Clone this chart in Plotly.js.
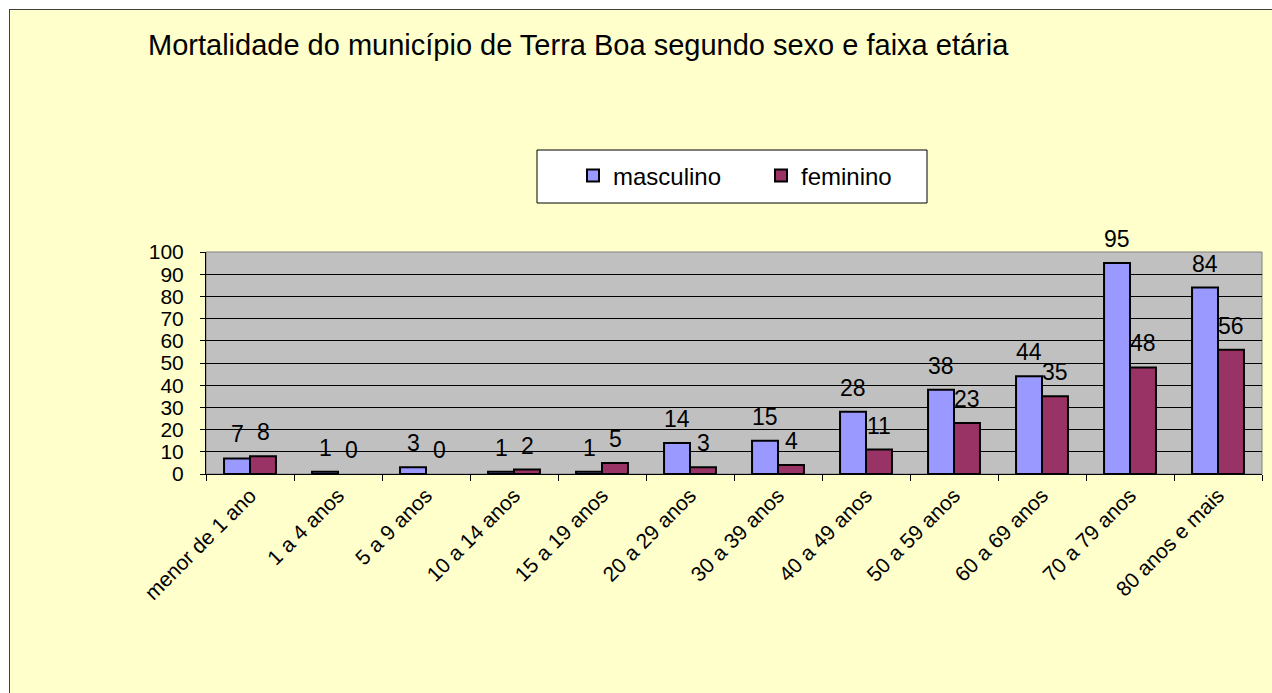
<!DOCTYPE html>
<html>
<head>
<meta charset="utf-8">
<script src="https://cdn.plot.ly/plotly-3.0.1.min.js"></script>
<style>
  html, body { margin: 0; padding: 0; background: #ffffff; width: 1272px; height: 693px; overflow: hidden; }
  #chart { position: absolute; left: 9px; top: 9px; width: 1263px; height: 684px;
           border-left: 1px solid #404040; border-top: 1px solid #404040; }
</style>
</head>
<body>
<div id="chart"></div>
<script>
const categories = ["menor de 1 ano","1 a 4 anos","5 a 9 anos","10 a 14 anos","15 a 19 anos","20 a 29 anos","30 a 39 anos","40 a 49 anos","50 a 59 anos","60 a 69 anos","70 a 79 anos","80 anos e mais"];
const masculino = [7, 1, 3, 1, 1, 14, 15, 28, 38, 44, 95, 84];
const feminino  = [8, 0, 0, 2, 5, 3, 4, 11, 23, 35, 48, 56];
const seriesNames = ["masculino", "feminino"];
const titleText = "Mortalidade do município de Terra Boa segundo sexo e faixa etária";

const FONT = "Liberation Sans, Arial, sans-serif";
const W = 1263, H = 684;
const M = { l: 196, r: 11, t: 242, b: 220 };
const PW = W - M.l - M.r, PH = H - M.t - M.b;
const px = (x) => (x - M.l) / PW;          // div px -> paper x
const py = (y) => 1 + (M.t - y) / PH;      // div px -> paper y

const lineWidths = (vals) => vals.map(v => v === 0 ? 0 : 2);

const traces = [
  { type: "bar", name: seriesNames[0], x: categories, y: masculino,
    marker: { color: "#9999FF", line: { color: "#000000", width: lineWidths(masculino) } }, hoverinfo: "x+y" },
  { type: "bar", name: seriesNames[1], x: categories, y: feminino,
    marker: { color: "#993366", line: { color: "#000000", width: lineWidths(feminino) } }, hoverinfo: "x+y" }
];

const annotations = [];
[masculino, feminino].forEach((vals, si) => {
  vals.forEach((v, i) => {
    annotations.push({
      x: categories[i], y: v, xref: "x", yref: "y",
      text: String(v), showarrow: false,
      xanchor: "center", yanchor: "bottom",
      xshift: si === 0 ? -13 : 13, yshift: 9,
      font: { family: FONT, size: 23, color: "#000000" }
    });
  });
});

const layout = {
  width: W, height: H,
  paper_bgcolor: "#FFFFCC",
  plot_bgcolor: "#C0C0C0",
  margin: { l: M.l, r: M.r, t: M.t, b: M.b, pad: 0 },
  font: { family: FONT, color: "#000000" },
  title: {
    text: titleText, xref: "container", yref: "container",
    x: 138 / W, xanchor: "left", y: 1 - 35 / H, yanchor: "middle",
    font: { family: FONT, size: 29, color: "#000000" }
  },
  barmode: "group",
  bargap: 0.41,
  bargroupgap: 0,
  showlegend: true,
  legend: {
    orientation: "h", x: px(563), xanchor: "left", y: py(166), yanchor: "middle",
    bgcolor: "rgba(0,0,0,0)", borderwidth: 0,
    font: { family: FONT, size: 24, color: "#000000" },
    entrywidth: 143, itemwidth: 30
  },
  xaxis: {
    type: "category", tickangle: -45,
    tickfont: { family: FONT, size: 21, color: "#000000" },
    showline: true, linecolor: "#000000", linewidth: 1,
    ticks: "outside", tickson: "boundaries", ticklen: 6, tickcolor: "#000000",
    showgrid: false, zeroline: false, fixedrange: true
  },
  yaxis: {
    range: [0, 100], dtick: 10, tick0: 0,
    tickfont: { family: FONT, size: 21, color: "#000000" },
    showline: true, linecolor: "#000000", linewidth: 1,
    ticks: "outside", ticklen: 5, tickcolor: "#000000", ticklabelstandoff: 12,
    showgrid: true, gridcolor: "#000000", gridwidth: 1,
    zeroline: false, fixedrange: true
  },
  shapes: [
    { type: "rect", xref: "paper", yref: "paper", x0: 0, x1: 1, y0: 0, y1: 1,
      line: { color: "#808080", width: 1 }, layer: "below" },
    { type: "rect", xref: "paper", yref: "paper",
      x0: px(527), x1: px(917), y0: py(193), y1: py(140),
      fillcolor: "#FFFFFF", line: { color: "#000000", width: 1 }, layer: "below" }
  ],
  annotations: annotations
};

Plotly.newPlot("chart", traces, layout, { displayModeBar: false, staticPlot: true });
</script>
</body>
</html>
